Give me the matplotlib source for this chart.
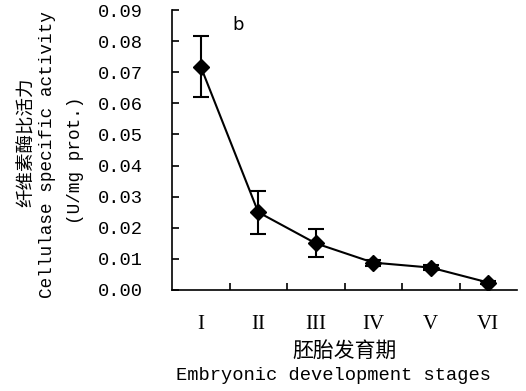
import numpy as np
import matplotlib
matplotlib.use('Agg')
import matplotlib.pyplot as plt

stages = ['I', 'II', 'III', 'IV', 'V', 'VI']
activity = [0.0718, 0.0250, 0.0150, 0.0088, 0.0072, 0.0024]
errors = [0.0098, 0.0069, 0.0045, 0.0010, 0.0008, 0.0005]
yticks = [0.00, 0.01, 0.02, 0.03, 0.04, 0.05, 0.06, 0.07, 0.08, 0.09]

mono = ['Liberation Mono', 'Noto Sans CJK SC']
cjk = ['Noto Sans CJK SC', 'Liberation Mono']

fig = plt.figure(figsize=(5.26, 3.91), dpi=100)
ax = fig.add_axes([172 / 526, 1 - 290 / 391, 345 / 526, 280 / 391])

x = np.arange(len(stages)) + 0.5
ax.errorbar(x, activity, yerr=errors, color='black', lw=1.5, elinewidth=1.5,
            capsize=5.5, capthick=1.5, marker='D', markersize=8,
            markerfacecolor='black', markeredgecolor='black')

ax.set_xlim(0, len(stages))
ax.set_ylim(0, 0.09)
ax.spines['top'].set_visible(False)
ax.spines['right'].set_visible(False)
for s in ['left', 'bottom']:
    ax.spines[s].set_linewidth(1.2)

ax.set_yticks(yticks)
ax.set_yticklabels(['%.2f' % v for v in yticks], family=mono, fontsize=13.5)
ax.tick_params(axis='y', direction='in', length=5, width=1.2, pad=21)

ax.set_xticks(np.arange(1, len(stages)))
ax.set_xticklabels([])
ax.set_xticks(x, minor=True)
ax.set_xticklabels(stages, minor=True, family='Liberation Serif', fontsize=15)
ax.tick_params(axis='x', which='major', direction='in', length=5, width=1.2)
ax.tick_params(axis='x', which='minor', length=0, pad=18)

ax.text(0.191, 0.946, 'b', transform=ax.transAxes, fontsize=13,
        ha='center', va='center')

fig.text(27 / 526, 1 - 142 / 391, '纤维素酶比活力', rotation=90, family=cjk,
         fontsize=13.3, ha='center', va='center')
fig.text(48 / 526, 1 - 155 / 391, 'Cellulase specific activity', rotation=90,
         family=mono, fontsize=12.7, ha='center', va='center')
fig.text(76 / 526, 1 - 160 / 391, '(U/mg prot.)', rotation=90,
         family=mono, fontsize=12.7, ha='center', va='center')

fig.text(345 / 526, 1 - 351 / 391, '胚胎发育期', family=cjk, fontsize=15,
         ha='center', va='center')
fig.text(334 / 526, 1 - 375 / 391, 'Embryonic development stages', family=mono,
         fontsize=13.5, ha='center', va='center')

fig.savefig('out.png', dpi=100)
